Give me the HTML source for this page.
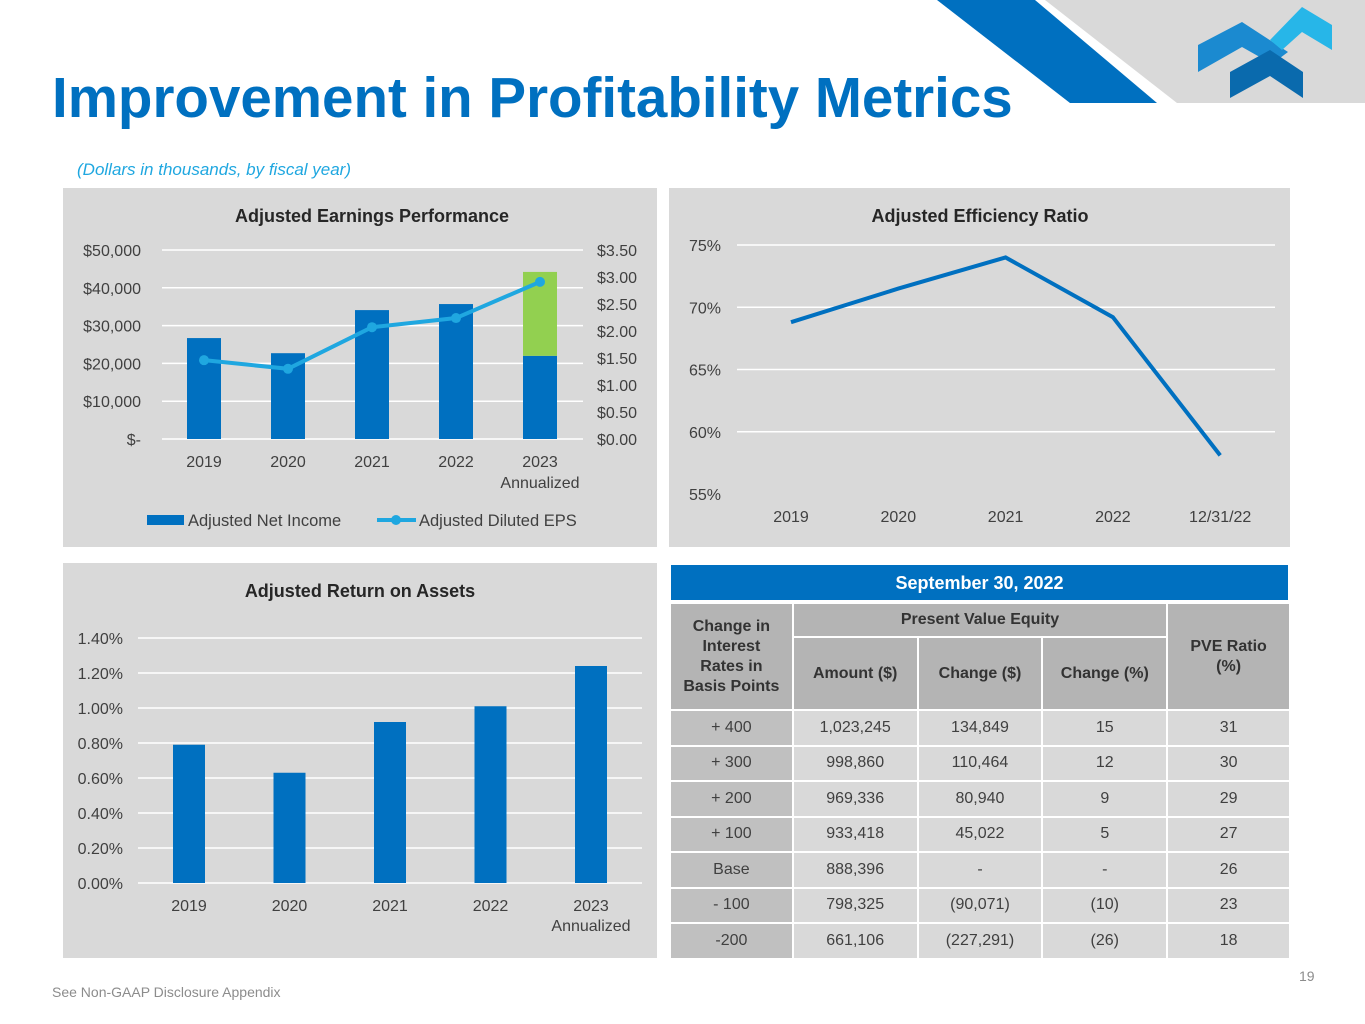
<!DOCTYPE html>
<html><head><meta charset="utf-8"><style>
body{margin:0;width:1365px;height:1024px;background:#fff;position:relative;overflow:hidden;font-family:"Liberation Sans",Arial,sans-serif}
.abs{position:absolute}
.panel{position:absolute;background:#d9d9d9}
svg text{font-family:"Liberation Sans",Arial,sans-serif}
table{border-collapse:separate;border-spacing:2px;position:absolute;left:669px;top:602px;width:622px;font-size:16px;color:#404040}
td{text-align:center;padding:0;background:#d9d9d9}
td.h{background:#b4b4b4;font-weight:bold;color:#333;line-height:20px}
td.f{background:#c0c0c0}
</style></head><body>
<svg class="abs" style="left:0;top:0" width="1365" height="110">
<polygon points="1045,0 1365,0 1365,103 1177,103" fill="#d9d9d9"/>
<polygon points="937,0 1035,0 1157,103 1070,103" fill="#0070c0"/>
<polygon points="1198,45 1242,22 1288,52 1272,64 1242,47 1198,72" fill="#1b8ad0"/>
<polygon points="1270,40 1302,7 1332,25 1332,50 1302,32 1282,50" fill="#27b6e8"/>
<polygon points="1230,72 1270,50 1303,72 1303,98 1270,76 1230,98" fill="#0a6aad"/>
</svg>
<div class="abs" style="left:52px;top:66px;font-size:56.5px;font-weight:bold;color:#0070c0;line-height:64px">Improvement in Profitability Metrics</div>
<div class="abs" style="left:77px;top:160px;font-size:17px;font-style:italic;color:#1fa7e0">(Dollars in thousands, by fiscal year)</div>

<div class="panel" style="left:63px;top:188px;width:594px;height:359px"></div>
<div class="panel" style="left:669px;top:188px;width:621px;height:359px"></div>
<div class="panel" style="left:63px;top:563px;width:594px;height:395px"></div>

<svg class="abs" style="left:0;top:0" width="1365" height="1024" id="charts"></svg>

<div class="abs" style="left:671px;top:565px;width:617px;height:35px;background:#0070c0;color:#fff;font-weight:bold;font-size:18px;text-align:center;line-height:36px">September 30, 2022</div>
<table>
<tr style="height:32px"><td class="h" rowspan="2" style="width:120px">Change in<br>Interest<br>Rates in<br>Basis Points</td><td class="h" colspan="3">Present Value Equity</td><td class="h" rowspan="2" style="width:120px">PVE Ratio<br>(%)</td></tr>
<tr style="height:71px"><td class="h" style="width:122px">Amount ($)</td><td class="h" style="width:122px">Change ($)</td><td class="h" style="width:122px">Change (%)</td></tr>
<tbody id="tb"></tbody>
</table>

<div class="abs" style="left:52px;top:984px;font-size:14px;color:#8c8c8c">See Non-GAAP Disclosure Appendix</div>
<div class="abs" style="left:1299px;top:968px;font-size:14px;color:#8c8c8c">19</div>

<script>
const earnCats=["2019","2020","2021","2022","2023"];
const netIncome=[26700,22700,34100,35700,22000];
const annualizedExtra=[0,0,0,0,22200];
const eps=[1.46,1.30,2.07,2.24,2.91];
const earnLeftTicks=["$-","$10,000","$20,000","$30,000","$40,000","$50,000"];
const earnRightTicks=["$0.00","$0.50","$1.00","$1.50","$2.00","$2.50","$3.00","$3.50"];
const effCats=["2019","2020","2021","2022","12/31/22"];
const effValues=[68.8,71.5,74.0,69.2,58.1];
const effTicks=["55%","60%","65%","70%","75%"];
const roaCats=["2019","2020","2021","2022","2023"];
const roaValues=[0.79,0.63,0.92,1.01,1.24];
const roaTicks=["0.00%","0.20%","0.40%","0.60%","0.80%","1.00%","1.20%","1.40%"];
const tblRates=["+ 400","+ 300","+ 200","+ 100","Base","- 100","-200"];
const tblAmount=["1,023,245","998,860","969,336","933,418","888,396","798,325","661,106"];
const tblChg=["134,849","110,464","80,940","45,022","-","(90,071)","(227,291)"];
const tblPct=["15","12","9","5","-","(10)","(26)"];
const tblRatio=["31","30","29","27","26","23","18"];

const S=document.getElementById('charts');const NS='http://www.w3.org/2000/svg';
function el(t,a,txt){const e=document.createElementNS(NS,t);for(const k in a)e.setAttribute(k,a[k]);if(txt!==undefined)e.textContent=txt;S.appendChild(e);return e;}
function txt(x,y,s,o){o=o||{};const e=el('text',{x:x,y:y,'font-size':o.fs||16,fill:o.fill||'#404040','text-anchor':o.a||'middle','font-weight':o.fw||'normal'},s);return e;}

// Earnings chart
(function(){
 const y0=439,y1=250,x0=162,x1=583;
 const yL=v=>y0-(v/50000)*(y0-y1);
 const yR=v=>y0-(v/3.5)*(y0-y1);
 const xC=i=>204+i*84;
 const t=txt(372,222,'Adjusted Earnings Performance',{fw:'bold',fs:18,fill:'#262626'});
 
 earnLeftTicks.forEach((s,i)=>{const y=yL(i*10000);const g=el('line',{x1:x0,x2:x1,y1:y,y2:y,stroke:'#fff','stroke-width':1.5});
  
  const l=txt(141,y+6,s,{a:'end'});});
 earnRightTicks.forEach((s,i)=>{const l=txt(597,yR(i*0.5)+6,s,{a:'start'});
  });
 earnCats.forEach((c,i)=>{
  const b=el('rect',{x:xC(i)-17,y:yL(netIncome[i]),width:34,height:y0-yL(netIncome[i]),fill:'#0070c0'});
  
  if(annualizedExtra[i]>0){const g=el('rect',{x:xC(i)-17,y:yL(netIncome[i]+annualizedExtra[i]),width:34,height:yL(netIncome[i])-yL(netIncome[i]+annualizedExtra[i]),fill:'#92d050'});
   }
  const l=txt(xC(i),467,c);
 });
 const a=txt(xC(4),488,'Annualized');
 const p=el('polyline',{points:eps.map((v,i)=>xC(i)+','+yR(v)).join(' '),fill:'none',stroke:'#1fa7e0','stroke-width':4});
 
 eps.forEach((v,i)=>{const c=el('circle',{cx:xC(i),cy:yR(v),r:5,fill:'#1fa7e0'});
  });
 const lb=el('rect',{x:147,y:515,width:37,height:10,fill:'#0070c0'});
 const lt=txt(188,526,'Adjusted Net Income',{a:'start',fs:16.5});
 const ll=el('line',{x1:377,x2:416,y1:520,y2:520,stroke:'#1fa7e0','stroke-width':4});
 const lc=el('circle',{cx:396,cy:520,r:5,fill:'#1fa7e0'});
 const lt2=txt(419,526,'Adjusted Diluted EPS',{a:'start',fs:16.5});
})();

// Efficiency chart
(function(){
 const y0=494,y1=245,x0=737,x1=1275;
 const y=v=>y0-((v-55)/20)*(y0-y1);
 const xC=i=>791+i*107.3;
 const t=txt(980,222,'Adjusted Efficiency Ratio',{fw:'bold',fs:18,fill:'#262626'});
 
 effTicks.forEach((s,i)=>{const yy=y(55+i*5);
  if(i>0){const g=el('line',{x1:x0,x2:x1,y1:yy,y2:yy,stroke:'#fff','stroke-width':1.5});}
  const l=txt(721,yy+6,s,{a:'end'});});
 effCats.forEach((c,i)=>{const l=txt(xC(i),522,c);});
 const p=el('polyline',{points:effValues.map((v,i)=>xC(i)+','+y(v)).join(' '),fill:'none',stroke:'#0070c0','stroke-width':4});
 
})();

// ROA chart
(function(){
 const y0=883,y1=638,x0=138,x1=642;
 const y=v=>y0-(v/1.4)*(y0-y1);
 const xC=i=>189+i*100.5;
 const t=txt(360,597,'Adjusted Return on Assets',{fw:'bold',fs:18,fill:'#262626'});
 
 roaTicks.forEach((s,i)=>{const yy=y(i*0.2);
  const g=el('line',{x1:x0,x2:x1,y1:yy,y2:yy,stroke:'#fff','stroke-width':1.5});
  const l=txt(123,yy+6,s,{a:'end'});});
 roaCats.forEach((c,i)=>{
  const b=el('rect',{x:xC(i)-16,y:y(roaValues[i]),width:32,height:y0-y(roaValues[i]),fill:'#0070c0'});
  
  const l=txt(xC(i),911,c);});
 const a=txt(xC(4),931,'Annualized');
})();

// Table rows
const tb=document.getElementById('tb');
tblRates.forEach((r,i)=>{
 const tr=document.createElement('tr');tr.style.height='33.5px';
 
 
 [r,tblAmount[i],tblChg[i],tblPct[i],tblRatio[i]].forEach((v,j)=>{const td=document.createElement('td');td.textContent=v;if(j===0)td.className='f';
  
  
  tr.appendChild(td);});
 tb.appendChild(tr);
});
</script>
</body></html>
